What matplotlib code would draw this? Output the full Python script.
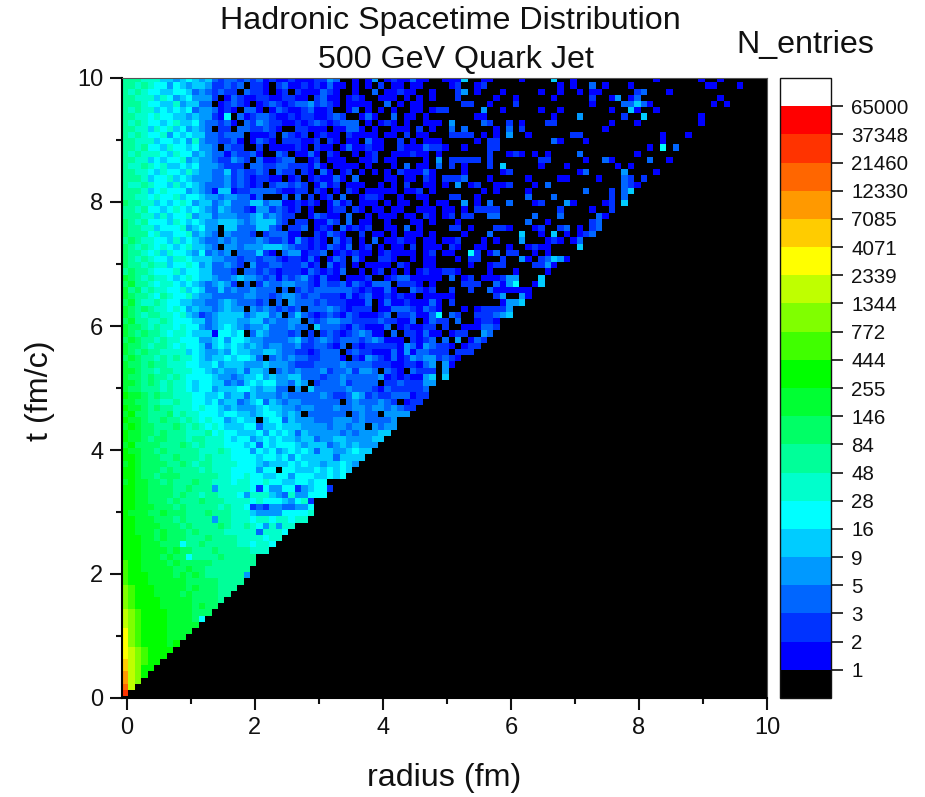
import numpy as np
import matplotlib
matplotlib.use("Agg")
import matplotlib.pyplot as plt
from matplotlib.colors import ListedColormap, BoundaryNorm

plt.rcParams['font.family'] = ['Liberation Sans', 'DejaVu Sans']

bounds = [1, 2, 3, 5, 9, 16, 28, 48, 84, 146, 255, 444, 772, 1344, 2339, 4071,
          7085, 12330, 21460, 37348, 65000]
band_colors = ['#0000ff', '#0033ff', '#0066ff', '#0099ff', '#00ccff', '#00ffff',
               '#00ffcc', '#00ff99', '#00ff66', '#00ff33', '#00ff00',
               '#40ff00', '#80ff00', '#bfff00', '#ffff00',
               '#ffcc00', '#ff9900', '#ff6600', '#ff3300', '#ff0000']
level_chars = "0123456789abcdefghijk"

# band index per cell, one string per time bin, left to right, from t bin 99 down
rows_upper = [
"8887775545654532332323121121112243001014012113110",
"8878766465455422323022102311212131101010201101100",
"8787665566534323220322101202111321001003011211001",
"8877757645644420132112211221102311012100111010101",
"8887665574553301232101232123342321011110030101100",
"8787756565634431210331013211231120013010101001101",
"8877676655454421603123321121221123200131003011010",
"8787665675564332310324322112123212333010121010011",
"8877576756454302203322321002211101133101001110201",
"8787667465655332333011120321201211021111011020110",
"8877756656474332231013210222112021011031100201011",
"8878665766564430322002011112102110131121100211132",
"8787776576645433132231003201131021001012001112110",
"8877565667454432243203112330012011100112011000010",
"8778767556564443222033223322213101111010001030110",
"8877657665754433523223203220210310120101010211131",
"8887566756544433423212211012012113103000011011021",
"8778766575654333423212023323201312011100101020011",
"8887567666454315512233332112202101021011111011201",
"8877676675665443443313000303020120300122100100110",
"9887756567645534533355344112121013120111010110010",
"8878665676565435433214423212010012202101101100111",
"8887757566745534443345343220013211030010111011021",
"9878666576565445554345553202201132030110010001101",
"9887756667456440553335532022301210312120011030100",
"9888675566745430433320233311002132100201101011101",
"8987766575654334343334322314212103120103011211011",
"9878767656755430443444555432212132130120101102011",
"9887675766546343403335210344122301212110121111012",
"9878766577655544332332332122131013203100221001011",
"9887877566764533432042233222312031201011110210011",
"8988766675665533320332321222132121300101201010121",
"a987877656765543345443231323421311011120012331111",
"9a88767765654345420302433443321322313213330222101",
"a897877667565335343343330302323333332121131003212",
"a988768766754433333443323443233222131231121211011",
"9a87787665544334543332303043332322211130131121113",
"a989877676454434544043432323033343212220113332132",
"a987887767542345555345534035321232132111230223113",
"9a88778766655345554455343344032344332222322113013",
"a998787767664345654344533343305333213211130121122",
"a989887677655516656035433323020232123431103022131",
"9a98878776664456466544333345323432333234311102123",
"a998788767665356565454344334223321302122222143143",
"a989887777565445465544554332212333023221113141332",
"9a98878787765455656653034343322333102143213124344",
"a998988777665564555444544432223333433332221122134",
"aa98878877766545445355403434333423342443032103222",
"a998988787666654434556454455333233433333412121145",
]
rows_lower = [
"aa98987877656655343565664435402333423333022322244",
"a99888787765664555665455330405333334333213222223",
"baa989887776655645535444343333343223542322333122",
"aa99887787766564553456354344333333034333" + "4320122",
"baa9898877767665454445655443443334334434434322",
"ab99888978776665665545665454033333303433" + "04444",
"baa9889887876766456550566354443334443433334",
"aba9988898787676555663556555444434434404344",
"baa998988877786766555646565354444434344455",
"baa98998887887776566456565545534455444455",
"ab99998889878777666563656665455534545444",
"baa998988888777876664656456565355445655",
"bba99988988878777666656656465555535555",
"aba9999889878877776665455565655455654",
"bba999898888787776666466066555656565",
"bba99899988888877667665566466655656",
"abaa9989888988777677667665566566",
"bbaa99998898884777776264466245662",
"bbaa9999898878877764777543744666",
"bbaa99989888988877776766654672",
"bbaaa9998988888787762324433446",
"baaa99a99988898887775444466667",
"bbaaa999898888488777677677677",
"bbaaaa99989888898778764747" + "7",
"bbaaa9a9998988887777737776",
"bbbaa9a999888988887777677",
"bbbaaa999688988888776776",
"bbbaaaa9a99888988888777",
"bbbaaa9a9968888988888",
"cbbaaaa9a9999988888" + "88",
"cbbaaaaa99a9988888" + "88",
"cbbbaaaa9a9a98888884",
"cbbbaaaaaa999998888",
"dcbbbaaaaa9a999888",
"dcbbbaaaa9a999988",
"dcbbbbaaaaa99998",
"dcbbbbaaaaa9a99",
"edcbbbbaaaa999",
"edcbbbbaaaa96",
"edcbbbbaaaaa",
"fdcbbbbaaaa",
"fdcbbbbaaa",
"fdcbbbbab",
"fedcbbbb",
"fedcbbb",
"gedcbb",
"gedbb",
"hedb",
"hed",
"ie",
"j",
]
# sparse cells to the right of bin 48, "column:band", from t bin 99 down
right_cells = [
"50:1 51:1 52:1 53:5 56:1 57:1 62:1 67:5 70:1 83:1 90:1 93:1",
"51:1 52:2 55:1 56:2 68:1 70:1 73:3 75:1 79:1 91:1 92:1 96:1",
"52:2 53:4 55:1 59:1 65:1 68:1 71:1 73:1 74:1 80:2 81:3 85:1",
"52:2 58:1 61:1 67:1 73:2 76:1 77:4 79:1 80:3 93:1",
"53:2 54:2 57:1 61:2 73:1 78:3 79:3 80:5 81:3 82:1 92:1 94:1",
"49:2 50:2 56:4 59:1 65:1 68:1 76:1 79:5 80:1 83:1",
"55:1 56:1 67:1 71:4 78:2 81:5 90:1",
"49:1 51:4 56:3 57:2 60:2 62:1 66:2 67:2 76:1 80:1 90:1",
"51:3 53:3 58:1 60:3 62:2 75:1",
"51:2 52:2 53:2 54:2 56:1 58:1 60:4 63:1 70:2 71:2 84:1 88:1",
"49:1 55:1 57:2 58:2 67:3 68:1 72:1 84:1",
"49:2 50:1 53:1 57:2 58:2 82:1 84:6 86:3",
"49:1 57:2 60:1 61:2 62:1 64:1 66:1 71:3 80:1",
"49:4 51:2 52:2 53:2 54:2 55:2 57:2 65:2 66:2 72:1 75:3 76:1 82:3 85:1",
"49:3 51:2 53:1 57:2 59:5 65:1 69:1 77:1 79:1",
"53:1 59:1 60:2 71:1 72:3 78:4 83:1",
"50:2 51:2 52:2 53:3 57:1 63:1 68:1 69:1 74:1 78:3 79:2 81:2",
"50:1 52:4 54:1 55:2 58:1 59:1 60:2 64:1 66:3 78:3 79:2 80:1",
"56:1 58:1 63:1 72:3 76:2 78:3 79:5",
"51:2 52:2 55:1 63:3 67:3 76:2 78:3",
"49:1 50:1 53:4 55:1 57:3 60:3 64:1 65:2 69:4 70:1 75:1 76:2 78:5",
"50:1 51:1 53:1 55:2 56:2 57:2 58:2 68:2 73:1 76:2",
"50:1 51:2 53:2 54:2 57:3 58:3 64:3 68:3 74:3 75:1",
"52:1 63:3 66:1 73:2 74:3",
"51:2 52:2 54:1 58:2 59:2 60:1 64:1 65:2 68:2 69:3 71:1 73:2 74:3",
"53:1 57:3 62:5 65:1 67:5 69:1 71:1 72:2 73:3",
"50:1 51:1 52:2 56:1 58:1 62:4 66:1 67:2 68:1 70:1 71:3",
"49:1 51:2 52:1 55:1 56:1 60:1 63:1 64:2 65:1 66:1 71:5",
"50:1 51:1 54:6 55:2 57:1 58:3 60:2 61:2 64:1 66:1",
"52:1 54:2 55:2 59:2 62:4 63:1 65:2 66:3 67:5 68:4 69:1",
"54:1 57:1 58:2 59:2 64:2 65:2 66:4 67:1",
"49:1 50:2 51:2 52:1 57:1 61:1 66:1",
"49:1 51:3 53:1 54:2 56:1 57:1 58:1 59:2 60:4 61:4 65:5",
"53:2 54:2 55:2 58:3 59:1 60:4 61:6 64:1 65:5",
"51:2 54:2 57:3 58:1 59:1 60:1 61:1 62:1 63:1",
"49:1 50:1 51:1 58:2 59:4 62:4 63:1",
"49:1 51:2 59:1 60:4 61:4 62:5",
"49:1 53:1 55:1 56:2 57:2 58:2 59:2 60:4",
"49:6 51:3 52:2 55:2 56:2 57:2 58:3 59:4 60:5",
"49:2 50:2 52:3 55:1 56:2 57:2 58:1",
"50:2 53:1 54:1 55:1 56:3 57:3 58:2",
"49:1 51:1 52:2 53:2 56:4 57:3",
"50:3 52:4 54:1 55:3 56:2",
"49:2 50:2 51:1 53:1 54:2 55:2",
"49:2 50:2 52:2 53:2 54:2",
"49:2 50:3 51:2 52:1",
"50:4 51:1",
"50:4",
"50:5",
]

n_bins = 100
levels = np.zeros((n_bins, n_bins), dtype=int)
for k, text in enumerate(rows_upper + rows_lower):
    row = 99 - k
    for c, ch in enumerate(text):
        levels[row, c] = level_chars.index(ch)
for k, text in enumerate(right_cells):
    row = 99 - k
    for item in text.split():
        col, band = item.split(":")
        levels[row, int(col)] = int(band)

counts = np.zeros_like(levels, dtype=float)
counts[levels > 0] = np.array(bounds)[levels[levels > 0] - 1]

x_edges = np.linspace(-0.075, 9.925, n_bins + 1)
y_edges = np.linspace(0.03, 10.03, n_bins + 1)

W, H = 925, 797
fig = plt.figure(figsize=(W / 100, H / 100), dpi=100, facecolor='white')

def box(l, t, r, b):
    return [l / W, 1 - b / H, (r - l) / W, (b - t) / H]

cmap = ListedColormap(band_colors)
cmap.set_under('black')
cmap.set_over('white')
norm = BoundaryNorm(bounds, cmap.N, clip=False)

ax = fig.add_axes(box(122, 78, 767, 698))
ax.set_facecolor('black')
mesh = ax.pcolormesh(x_edges, y_edges, counts, cmap=cmap, norm=norm, shading='flat')
ax.set_xlim(-0.075, 10)
ax.set_ylim(0, 10)
ax.set_xticks([0, 2, 4, 6, 8, 10])
ax.set_yticks([0, 2, 4, 6, 8, 10])
ax.set_xticks([1, 3, 5, 7, 9], minor=True)
ax.set_yticks([1, 3, 5, 7, 9], minor=True)
ax.tick_params(which='major', length=8.5, width=1.5, labelsize=17, pad=5, color='#111111', labelcolor='#111111')
ax.tick_params(which='minor', length=4.5, width=1.5, color='#111111')
for s in ('left', 'bottom'):
    ax.spines[s].set_linewidth(1.5)
for s in ('top', 'right'):
    ax.spines[s].set_linewidth(0.8)
    ax.spines[s].set_color('#555555')

fig.text(450 / W, 1 - 21 / H, "Hadronic Spacetime Distribution", ha='center', va='center', fontsize=23.2, color='#111111')
fig.text(456 / W, 1 - 60 / H, "500 GeV Quark Jet", ha='center', va='center', fontsize=23.2, color='#111111')
fig.text(444.5 / W, 1 - 778 / H, "radius (fm)", ha='center', va='center', fontsize=23.2, color='#111111')
fig.text(40 / W, 1 - 391 / H, "t (fm/c)", ha='center', va='center', rotation=90, fontsize=23.2, color='#111111')
fig.text(805 / W, 1 - 45 / H, "N_entries", ha='center', va='center', fontsize=23.2, color='#111111')

cax = fig.add_axes(box(780, 78, 831, 698))
cb = fig.colorbar(mesh, cax=cax, spacing='uniform', extend='both', extendrect=True,
                  extendfrac=1 / 20, ticks=bounds, drawedges=False)
cb.ax.set_yticklabels([str(b) for b in bounds])
cb.ax.minorticks_off()
cb.ax.tick_params(length=8.5, width=1.2, labelsize=14.8, pad=6, color='#111111', labelcolor='#111111')
cb.outline.set_linewidth(1.0)
cb.outline.set_edgecolor('#111111')

fig.savefig("out.png", dpi=100, facecolor='white')
